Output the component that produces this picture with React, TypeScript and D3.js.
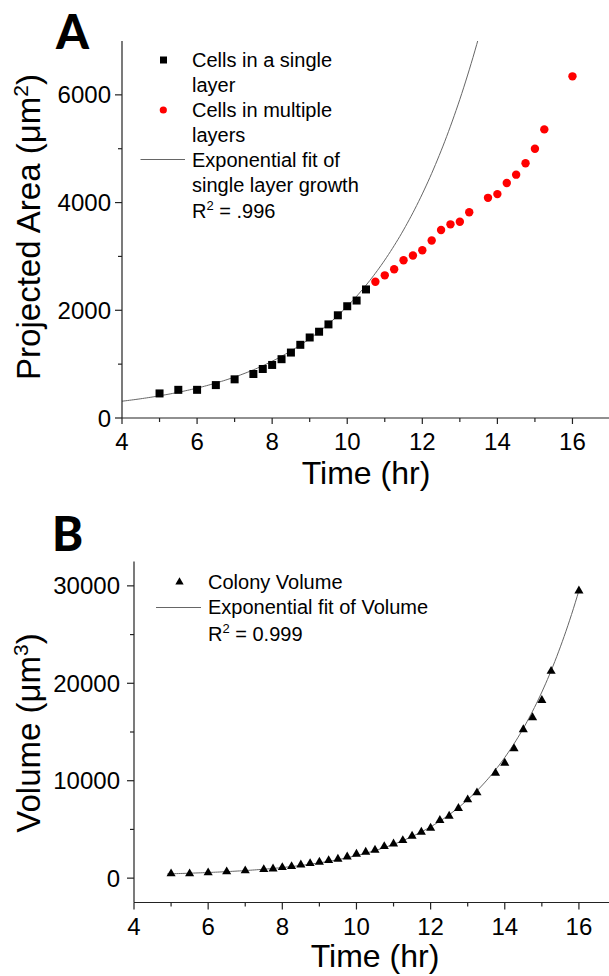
import React from "react";
import * as d3 from "d3";

// ---------- Data ----------
const timeSingle = [5, 5.5, 6, 6.5, 7, 7.5, 7.75, 8, 8.25, 8.5, 8.75, 9, 9.25, 9.5, 9.75, 10, 10.25, 10.5];
const areaSingle = [456, 523, 523, 611, 718, 817, 910, 985, 1092, 1215, 1359, 1495, 1602, 1738, 1907, 2075, 2181, 2387];

const timeMulti = [10.75, 11, 11.25, 11.5, 11.75, 12, 12.25, 12.5, 12.75, 13, 13.25, 13.75, 14, 14.25, 14.5, 14.75, 15, 15.25, 16];
const areaMulti = [2531, 2649, 2761, 2929, 3017, 3116, 3297, 3490, 3596, 3645, 3821, 4088, 4157, 4363, 4518, 4729, 4998, 5359, 6344];

const timeVolume = [5, 5.5, 6, 6.5, 7, 7.5, 7.75, 8, 8.25, 8.5, 8.75, 9, 9.25, 9.5, 9.75, 10, 10.25, 10.5, 10.75, 11, 11.25, 11.5, 11.75, 12, 12.25, 12.5, 12.75, 13, 13.25, 13.75, 14, 14.25, 14.5, 14.75, 15, 15.25, 16];
const volume = [452, 452, 555, 658, 760, 894, 963, 1099, 1202, 1373, 1510, 1644, 1818, 1952, 2192, 2466, 2671, 2880, 3257, 3530, 3873, 4315, 4726, 5137, 5928, 6370, 7161, 8055, 8774, 10788, 11815, 13295, 15247, 16480, 18258, 21237, 29487];

// Exponential fit parameters y = y0 + A * exp(b * t)
const fitArea = { y0: 79, A: 55.6, b: 0.358, from: 4, to: 14 };
const fitVolume = { y0: 217, A: 25.88, b: 0.4395, from: 4.9, to: 16 };

const xTicksMajor = [4, 6, 8, 10, 12, 14, 16];
const xTicksMinor = [5, 7, 9, 11, 13, 15, 17];
const areaTicksMajor = [0, 2000, 4000, 6000];
const areaTicksMinor = [1000, 3000, 5000];
const volTicksMajor = [0, 10000, 20000, 30000];
const volTicksMinor = [5000, 15000, 25000];

const legendA = [
  ["Cells in a single", "layer"],
  ["Cells in multiple", "layers"],
  ["Exponential fit of", "single layer growth"],
];

const FONT = "'Liberation Sans', Arial, sans-serif";
const AXIS_COLOR = "#222";
const FIT_COLOR = "#666";

function fitPoints(f: { y0: number; A: number; b: number; from: number; to: number }) {
  return d3.range(f.from, f.to + 0.0001, 0.05).map((t) => [t, f.y0 + f.A * Math.exp(f.b * t)] as [number, number]);
}

export default function App() {
  // Panel A scales
  const xA = d3.scaleLinear().domain([4, 17]).range([122, 610]);
  const yA = d3.scaleLinear().domain([0, 7000]).range([418, 41]);
  // Panel B scales
  const xB = d3.scaleLinear().domain([4, 17]).range([134, 616]);
  const yB = d3.scaleLinear().domain([-2500, 32500]).range([902.5, 561.5]);

  const lineA = d3.line<[number, number]>().x((d) => xA(d[0])).y((d) => yA(d[1]));
  const lineB = d3.line<[number, number]>().x((d) => xB(d[0])).y((d) => yB(d[1]));
  const tri = d3.symbol(d3.symbolTriangle, 36)();
  const triLegend = d3.symbol(d3.symbolTriangle, 30)();

  const xAxisA = yA(0);
  const xAxisB = yB(-2500);

  return (
    <div style={{ position: "absolute", left: 0, top: 0 }}>
      <svg width={609} height={976} style={{ display: "block", background: "#fff" }} fontFamily={FONT}>
        <defs>
          <clipPath id="clipA">
            <rect x={xA(4)} y={yA(7000)} width={609 - xA(4)} height={yA(0) - yA(7000)} />
          </clipPath>
        </defs>

        {/* ================= Panel A ================= */}
        <text x={56} y={49} fontFamily="Lato, 'Open Sans', sans-serif" fontWeight={900} fontSize={47}>A</text>

        {/* fit line */}
        <path d={lineA(fitPoints(fitArea)) || ""} fill="none" stroke={FIT_COLOR} strokeWidth={1} clipPath="url(#clipA)" />

        {/* axes */}
        <line x1={xA(4)} x2={xA(4)} y1={yA(7000)} y2={xAxisA} stroke={AXIS_COLOR} strokeWidth={1.2} />
        <line x1={xA(4)} x2={612} y1={xAxisA} y2={xAxisA} stroke={AXIS_COLOR} strokeWidth={1.2} />
        {areaTicksMajor.map((v) => (
          <g key={"ayM" + v}>
            <line x1={xA(4) - 7} x2={xA(4)} y1={yA(v)} y2={yA(v)} stroke={AXIS_COLOR} strokeWidth={1.2} />
            <text x={xA(4) - 11} y={yA(v)} dy="0.36em" textAnchor="end" fontSize={24}>{v}</text>
          </g>
        ))}
        {areaTicksMinor.map((v) => (
          <line key={"aym" + v} x1={xA(4) - 4} x2={xA(4)} y1={yA(v)} y2={yA(v)} stroke={AXIS_COLOR} strokeWidth={1.2} />
        ))}
        {xTicksMajor.map((v) => (
          <g key={"axM" + v}>
            <line x1={xA(v)} x2={xA(v)} y1={xAxisA} y2={xAxisA + 6} stroke={AXIS_COLOR} strokeWidth={1.2} />
            <text x={xA(v)} y={xAxisA + 32} textAnchor="middle" fontSize={24}>{v}</text>
          </g>
        ))}
        {xTicksMinor.map((v) => (
          <line key={"axm" + v} x1={xA(v)} x2={xA(v)} y1={xAxisA} y2={xAxisA + 4} stroke={AXIS_COLOR} strokeWidth={1.2} />
        ))}
        <text x={(xA(4) + xA(17)) / 2} y={484} textAnchor="middle" fontSize={32}>Time (hr)</text>
        <text transform={`translate(40,227) rotate(-90)`} textAnchor="middle" fontSize={33}>
          Projected Area (μm<tspan dy="-12" fontSize={21}>2</tspan><tspan dy="12">)</tspan>
        </text>

        {/* data */}
        {timeSingle.map((t, i) => (
          <rect key={"s" + i} x={xA(t) - 4} y={yA(areaSingle[i]) - 4} width={8} height={8} fill="#000" />
        ))}
        {timeMulti.map((t, i) => (
          <circle key={"m" + i} cx={xA(t)} cy={yA(areaMulti[i])} r={4.2} fill="#ff0000" />
        ))}

        {/* legend A */}
        <rect x={160} y={56.5} width={7} height={7} fill="#000" />
        <circle cx={163.3} cy={110} r={3.6} fill="#ff0000" />
        <line x1={140.5} x2={185} y1={159.5} y2={159.5} stroke={FIT_COLOR} strokeWidth={1} />
        {legendA.map((lines, i) => (
          <text key={"la" + i} x={192} y={67 + i * 50} fontSize={20}>
            <tspan x={192}>{lines[0]}</tspan>
            <tspan x={192} dy={25}>{lines[1]}</tspan>
          </text>
        ))}
        <text x={192} y={218} fontSize={20}>
          R<tspan dy="-8" fontSize={13}>2</tspan><tspan dy="8"> = .996</tspan>
        </text>

        {/* ================= Panel B ================= */}
        <text x={52} y={551} fontFamily="Lato, 'Open Sans', sans-serif" fontWeight={900} fontSize={47}>B</text>

        <path d={lineB(fitPoints(fitVolume)) || ""} fill="none" stroke={FIT_COLOR} strokeWidth={1} />

        <line x1={xB(4)} x2={xB(4)} y1={yB(32500)} y2={xAxisB} stroke={AXIS_COLOR} strokeWidth={1.2} />
        <line x1={xB(4)} x2={612} y1={xAxisB} y2={xAxisB} stroke={AXIS_COLOR} strokeWidth={1.2} />
        {volTicksMajor.map((v) => (
          <g key={"byM" + v}>
            <line x1={xB(4) - 7} x2={xB(4)} y1={yB(v)} y2={yB(v)} stroke={AXIS_COLOR} strokeWidth={1.2} />
            <text x={xB(4) - 14} y={yB(v)} dy="0.36em" textAnchor="end" fontSize={24}>{v}</text>
          </g>
        ))}
        {volTicksMinor.map((v) => (
          <line key={"bym" + v} x1={xB(4) - 4} x2={xB(4)} y1={yB(v)} y2={yB(v)} stroke={AXIS_COLOR} strokeWidth={1.2} />
        ))}
        {xTicksMajor.map((v) => (
          <g key={"bxM" + v}>
            <line x1={xB(v)} x2={xB(v)} y1={xAxisB} y2={xAxisB + 7} stroke={AXIS_COLOR} strokeWidth={1.2} />
            <text x={xB(v)} y={xAxisB + 32} textAnchor="middle" fontSize={24}>{v}</text>
          </g>
        ))}
        {xTicksMinor.map((v) => (
          <line key={"bxm" + v} x1={xB(v)} x2={xB(v)} y1={xAxisB} y2={xAxisB + 4} stroke={AXIS_COLOR} strokeWidth={1.2} />
        ))}
        <text x={(xB(4) + xB(17)) / 2} y={967} textAnchor="middle" fontSize={32}>Time (hr)</text>
        <text transform={`translate(40,733) rotate(-90)`} textAnchor="middle" fontSize={33}>
          Volume (μm<tspan dy="-12" fontSize={21}>3</tspan><tspan dy="12">)</tspan>
        </text>

        {timeVolume.map((t, i) => (
          <path key={"v" + i} d={tri || ""} transform={`translate(${xB(t)},${yB(volume[i])})`} fill="#000" />
        ))}

        {/* legend B */}
        <path d={triLegend || ""} transform="translate(179.5,582)" fill="#000" />
        <line x1={156} x2={201} y1={607.5} y2={607.5} stroke={FIT_COLOR} strokeWidth={1} />
        <text x={208} y={589} fontSize={20}>Colony Volume</text>
        <text x={208} y={614} fontSize={20}>Exponential fit of Volume</text>
        <text x={208} y={641} fontSize={20}>
          R<tspan dy="-8" fontSize={13}>2</tspan><tspan dy="8"> = 0.999</tspan>
        </text>
      </svg>
    </div>
  );
}
